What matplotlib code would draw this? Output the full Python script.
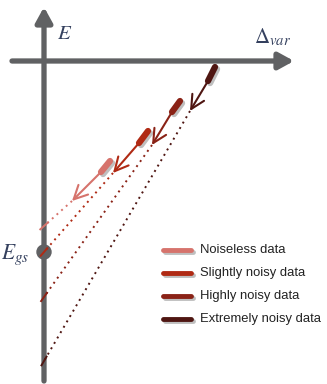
import matplotlib
matplotlib.use("Agg")
import matplotlib.pyplot as plt
import matplotlib.patheffects as pe
from matplotlib.patches import Circle

plt.rcParams["mathtext.fontset"] = "stix"

# schematic, in canvas pixels (y grows downward)
labels = ["Noiseless data", "Slightly noisy data", "Highly noisy data", "Extremely noisy data"]
colors = ["#d6736c", "#b02a14", "#8a2216", "#4f1612"]
seg_start = [(110, 161), (148, 131), (180, 101), (215, 67)]
seg_end = [(101, 172), (139, 143), (172, 112), (208, 81)]
arrow_tip = [(72, 201), (113, 173), (152, 145), (190, 111)]
intercept = [226, 252, 297, 361]
legend_y = [250, 273, 296, 319]

AX_X, AX_Y = 44, 61
E_GS = 252
AXIS_COLOR = "#606163"
TEXT_COLOR = "#34405e"

fig = plt.figure(figsize=(3.27, 3.84), dpi=100)
ax = fig.add_axes([0, 0, 1, 1])
ax.set_xlim(0, 327)
ax.set_ylim(384, 0)
ax.axis("off")

shadow = [pe.SimpleLineShadow(offset=(1.5, -1.5), alpha=0.25, shadow_color="k"), pe.Normal()]
axis_kw = dict(arrowstyle="-|>,head_length=1.0,head_width=0.55", color=AXIS_COLOR,
               lw=3.8, mutation_scale=9, shrinkA=0, shrinkB=0)
ax.annotate("", xy=(AX_X, 7), xytext=(AX_X, 381), arrowprops=axis_kw)
ax.annotate("", xy=(294, AX_Y), xytext=(12, AX_Y), arrowprops=axis_kw)
ax.add_patch(Circle((AX_X, E_GS), 7, color=AXIS_COLOR, zorder=3))

ax.text(57, 33, r"$E$", fontsize=15, color=TEXT_COLOR, ha="left", va="center")
ax.text(254, 37, r"$\Delta_{var}$", fontsize=15, color=TEXT_COLOR, ha="left", va="center")
ax.text(1, 255, r"$E_{gs}$", fontsize=15.5, color=TEXT_COLOR, ha="left", va="center")

for lab, c, s, e, t, yi, ly in zip(labels, colors, seg_start, seg_end, arrow_tip, intercept, legend_y):
    # data segment
    ax.plot([s[0], e[0]], [s[1], e[1]], color=c, lw=4.5, solid_capstyle="round",
            path_effects=shadow, zorder=4)
    # extrapolation arrow
    ax.annotate("", xy=t, xytext=e,
                arrowprops=dict(arrowstyle="->,head_length=0.7,head_width=0.35", color=c,
                                lw=1.5, mutation_scale=14, shrinkA=0, shrinkB=0), zorder=4)
    # dotted continuation down to the E axis
    ax.plot([t[0], AX_X], [t[1], yi], color=c, lw=1.4, ls=(0, (1, 2.2)), zorder=4)
    dx, dy = t[0] - AX_X, t[1] - yi
    n = (dx ** 2 + dy ** 2) ** 0.5
    ax.plot([AX_X - 5 * dx / n, AX_X + 5 * dx / n], [yi - 5 * dy / n, yi + 5 * dy / n],
            color=c, lw=1.4, zorder=5)
    # legend
    ax.plot([163, 191], [ly, ly], color=c, lw=3.5, solid_capstyle="round",
            path_effects=shadow)
    ax.text(200, ly, lab, fontsize=9.4, family="Liberation Sans", color="#222222",
            ha="left", va="center")

fig.savefig("out.png", dpi=100)
